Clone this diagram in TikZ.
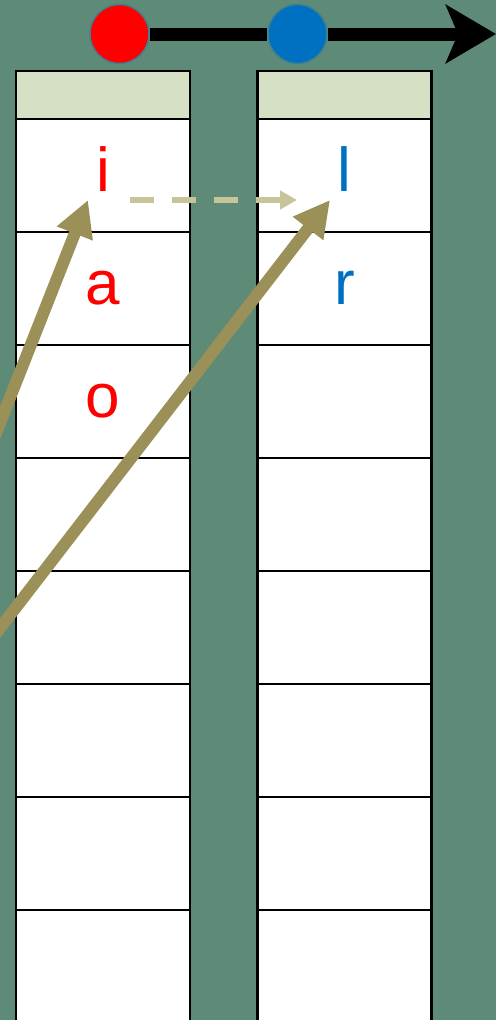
\documentclass[tikz,border=0pt]{standalone}
\usepackage{fontspec}
\setmainfont{Liberation Sans}
\usetikzlibrary{arrows.meta}
\definecolor{bggreen}{HTML}{5E8A78}
\definecolor{headfill}{HTML}{D6E0C4}
\definecolor{olivearr}{HTML}{9A9058}
\definecolor{sandarr}{HTML}{C8C49A}
\definecolor{ptrblue}{HTML}{0070C0}
\definecolor{ringblue}{HTML}{3F8090}
\tikzset{
  cell/.style={draw=black,line width=2.5pt,fill=white,minimum width=174pt,
    minimum height=113pt,inner sep=0pt,outer sep=0pt},
  headcell/.style={cell,fill=headfill,minimum height=48pt},
  letter/.style={anchor=base,inner sep=0pt,font=\fontsize{62}{62}\selectfont},
  ball/.style={circle,draw=ringblue,line width=1.5pt,minimum size=59pt,inner sep=0pt},
  jump/.style={draw=olivearr,line width=12pt,-{Triangle[length=36pt,width=36pt]}},
  hop/.style={draw=sandarr,line width=6pt,dash pattern=on 24pt off 18pt,
    -{Triangle[length=17pt,width=18pt]}}
}
\begin{document}
\begin{tikzpicture}[x=1pt,y=-1pt]

\def\LEFTX{103}
\def\RIGHTX{344.5}
	\fill[bggreen] (0,0) rectangle (496,1020);
	\useasboundingbox (0,0) rectangle (496,1020);
	% the two columns
	\node[headcell] (LH) at (\LEFTX,95) {};
	\node[headcell] (RH) at (\RIGHTX,95) {};
	\foreach \k in {0,...,7}{
		\node[cell] (L\k) at (\LEFTX,{175.5+\k*113}) {};
		\node[cell] (R\k) at (\RIGHTX,{175.5+\k*113}) {};
	}
	\node[letter,red] (Li) at (\LEFTX,191) {i};
	\node[letter,red] (La) at (\LEFTX,304) {a};
	\node[letter,red] (Lo) at (\LEFTX,417) {o};
	\node[letter,ptrblue] (Rl) at (\RIGHTX,191) {l};
	\node[letter,ptrblue] (Rr) at (\RIGHTX,304) {r};

	% pointers on top
	\node[ball,fill=red] (redball) at (119.5,34) {};
	\node[ball,fill=ptrblue] (blueball) at (297.5,34) {};
	\coordinate (topend) at (496,34);
	\draw[line width=13pt] (redball) -- (blueball);
	\draw[line width=13pt,-{Stealth[length=50pt,width=58pt,inset=12pt]}] (blueball) -- (topend);

	% moves
	\coordinate (hopA) at (130,200);
	\coordinate (hopB) at (297,200);
	\draw[hop] (hopA) -- (hopB);
	\coordinate (offA) at (-30,499);
	\coordinate (tipA) at (88,200);
	\coordinate (offB) at (-30,667);
	\coordinate (tipB) at (330,200);
	\draw[jump] (offA) -- (tipA);
	\draw[jump] (offB) -- (tipB);

\end{tikzpicture}
\end{document}
